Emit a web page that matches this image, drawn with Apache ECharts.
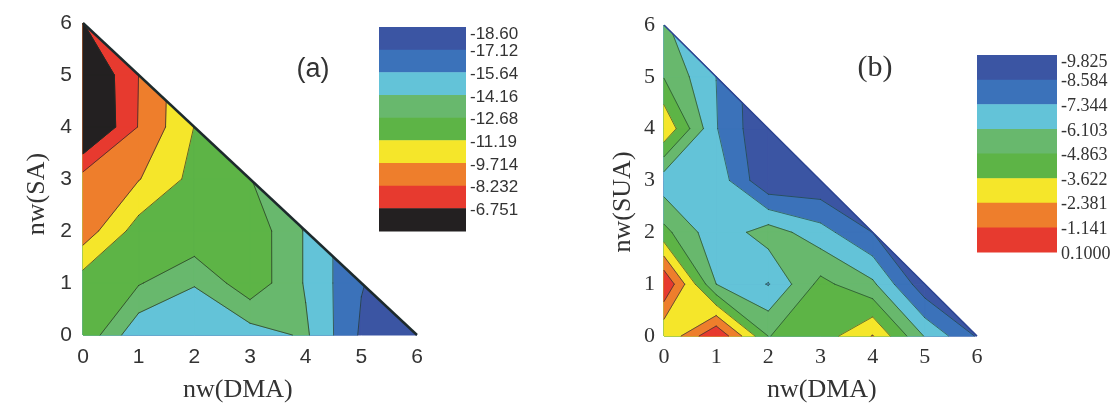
<!DOCTYPE html>
<html><head><meta charset="utf-8">
<script src="https://cdn.jsdelivr.net/npm/echarts@6/dist/echarts.min.js"></script>
<style>html,body{margin:0;padding:0;background:#fff}#c{width:1110px;height:405px}</style>
</head><body><div id="c"></div>
<script>
// axis ticks (number of water molecules)
const nwTicks = [0, 1, 2, 3, 4, 5, 6];

// Panel (a): values on the grid, one row per nw(SA) = 0..6, entries for nw(DMA) = 0..6-nw(SA)
const a_SA0 = [-11.49, -15.34, -15.19, -14.90, -13.93, -17.34, -18.53];
const a_SA1 = [-11.96, -12.55, -14.08, -11.64, -14.30, -17.04];
const a_SA2 = [-8.88, -11.86, -11.34, -11.65, -14.30];
const a_SA3 = [-8.82, -9.64, -11.64, -12.60];
const a_SA4 = [-4.53, -8.31, -11.22];
const a_SA5 = [-4.83, -8.24];
const a_SA6 = [-6.72];

// Panel (b): one row per nw(SUA) = 0..6
const b_SUA0 = [-3.56, 0.04, -4.89, -4.33, -2.32, -6.20, -8.71];
const b_SUA1 = [0.07, -6.10, -7.41, -4.49, -5.86, -9.45];
const b_SUA2 = [-4.49, -6.97, -5.48, -6.85, -8.60];
const b_SUA3 = [-6.85, -6.54, -9.70, -9.58];
const b_SUA4 = [-2.51, -7.27, -9.82];
const b_SUA5 = [-4.93, -7.35];
const b_SUA6 = [-5.86];

// contour levels and colour-bar labels
const levelsA = [-18.60, -17.12, -15.64, -14.16, -12.68, -11.19, -9.714, -8.232, -6.751];
const labelsA = ['-18.60', '-17.12', '-15.64', '-14.16', '-12.68', '-11.19', '-9.714', '-8.232', '-6.751'];
const levelsB = [-9.825, -8.584, -7.344, -6.103, -4.863, -3.622, -2.381, -1.141, 0.1000];
const labelsB = ['-9.825', '-8.584', '-7.344', '-6.103', '-4.863', '-3.622', '-2.381', '-1.141', '0.1000'];

const bandColors = ['#3b55a3', '#3b72ba', '#63c3d8', '#68b86d', '#5db446', '#f5e62a', '#ee7e2c', '#e73a2f', '#232021'];
const colorsA = bandColors.slice(0, 9);
const colorsB = bandColors.slice(0, 8);

const rowsA = [a_SA0, a_SA1, a_SA2, a_SA3, a_SA4, a_SA5, a_SA6];
const rowsB = [b_SUA0, b_SUA1, b_SUA2, b_SUA3, b_SUA4, b_SUA5, b_SUA6];

// ---- marching-squares helpers ----
function clipPoly(poly, level) {
  const out = [];
  const inside = p => p[2] >= level;
  for (let n = 0; n < poly.length; n++) {
    const a = poly[n], b = poly[(n + 1) % poly.length];
    const ia = inside(a), ib = inside(b);
    if (ia) out.push(a);
    if (ia !== ib) {
      const t = (level - a[2]) / (b[2] - a[2]);
      out.push([a[0] + t * (b[0] - a[0]), a[1] + t * (b[1] - a[1]), level]);
    }
  }
  return out;
}
function crossings(poly, L) {
  const res = [];
  for (let k = 0; k < poly.length; k++) {
    const a = poly[k], b = poly[(k + 1) % poly.length];
    if ((a[2] >= L) !== (b[2] >= L)) {
      const t = (L - a[2]) / (b[2] - a[2]);
      res.push([a[0] + t * (b[0] - a[0]), a[1] + t * (b[1] - a[1])]);
    }
  }
  return res;
}
function isSaddle(poly, L) {
  if (poly.length !== 4) return false;
  const s = poly.map(p => p[2] >= L);
  return s[0] === s[2] && s[1] === s[3] && s[0] !== s[1];
}
function superPolys(cell, L) {
  const poly = cell.poly;
  if (isSaddle(poly, L) && cell.center < L) {
    const cr = crossings(poly, L);
    if (poly[1][2] >= L) return [[cr[0], poly[1], cr[1]], [cr[2], poly[3], cr[3]]];
    return [[cr[3], poly[0], cr[0]], [cr[1], poly[2], cr[2]]];
  }
  const c = clipPoly(poly, L);
  return c.length >= 3 ? [c] : [];
}
function isoSegments(cell, L) {
  const poly = cell.poly;
  const cr = crossings(poly, L);
  if (cr.length === 2) return [[cr[0], cr[1]]];
  if (cr.length === 4) {
    const cutC1 = (poly[1][2] < L) === (cell.center >= L);
    return cutC1 ? [[cr[0], cr[1]], [cr[2], cr[3]]] : [[cr[3], cr[0]], [cr[1], cr[2]]];
  }
  return [];
}
function makeCells(rows) {
  const n = rows.length - 1;
  const v = (x, y) => [x, y, rows[y][x]];
  const cells = [];
  for (let j = 0; j < n; j++) {
    for (let i = 0; i + j < n; i++) {
      if (i + j <= n - 2) {
        const poly = [v(i, j), v(i + 1, j), v(i + 1, j + 1), v(i, j + 1)];
        cells.push({ poly, center: (poly[0][2] + poly[1][2] + poly[2][2] + poly[3][2]) / 4 });
      } else {
        cells.push({ poly: [v(i, j), v(i + 1, j), v(i, j + 1)], center: null });
      }
    }
  }
  return cells;
}
// filled bands: one data item per band, drawn from the lowest band upwards
function fillSeries(rows, levels, colors, axis) {
  const cells = makeCells(rows);
  return {
    type: 'custom', xAxisIndex: axis, yAxisIndex: axis, silent: true, animation: false, z: 2, clip: false,
    data: colors.map((c, k) => [k]),
    renderItem(params, api) {
      const k = api.value(0);
      const children = [];
      for (const cell of cells) {
        const pgs = k === 0 ? [cell.poly] : superPolys(cell, levels[k]);
        for (const pg of pgs) {
          children.push({ type: 'polygon', shape: { points: pg.map(p => api.coord([p[0], p[1]])) },
            style: { fill: colors[k], stroke: colors[k], lineWidth: 1, lineJoin: 'round' } });
        }
      }
      return { type: 'group', children };
    }
  };
}
// contour lines: one data item per internal level
function lineSeries(rows, levels, nB, axis, color) {
  const cells = makeCells(rows);
  const idx = [];
  for (let k = 1; k < nB; k++) idx.push([k]);
  return {
    type: 'custom', xAxisIndex: axis, yAxisIndex: axis, silent: true, animation: false, z: 3, clip: false,
    data: idx,
    renderItem(params, api) {
      const L = levels[api.value(0)];
      const children = [];
      for (const cell of cells) {
        for (const s of isoSegments(cell, L)) {
          const a = api.coord(s[0]), b = api.coord(s[1]);
          children.push({ type: 'line', shape: { x1: a[0], y1: a[1], x2: b[0], y2: b[1] },
            style: { stroke: color, lineWidth: 1, lineCap: 'round' } });
        }
      }
      return { type: 'group', children };
    }
  };
}
function barSeries(colors, axis) {
  return {
    type: 'custom', xAxisIndex: axis, yAxisIndex: axis, silent: true, animation: false, clip: false,
    data: colors.map((c, k) => [k]),
    renderItem(params, api) {
      const k = api.value(0);
      const p0 = api.coord([0, k]), p1 = api.coord([1, k + 1]);
      return { type: 'rect', shape: { x: p0[0], y: Math.min(p0[1], p1[1]), width: p1[0] - p0[0], height: Math.abs(p1[1] - p0[1]) + 0.5 },
        style: { fill: colors[k] } };
    }
  };
}
function barLabelSeries(labels, axis, font) {
  return {
    type: 'custom', xAxisIndex: axis, yAxisIndex: axis, silent: true, animation: false, clip: false, z: 5,
    data: labels.map((t, k) => [k]),
    renderItem(params, api) {
      const k = api.value(0);
      const p = api.coord([1, k]);
      return { type: 'text', x: p[0] + 4, y: p[1] + (k === 0 ? 7 : 2),
        style: { text: labels[k], font: font, fill: '#333', align: 'left', verticalAlign: 'middle' } };
    }
  };
}
const maxNw = nwTicks[nwTicks.length - 1];
const edge = [[nwTicks[0], maxNw], [maxNw, nwTicks[0]]];

const SANS = 'Liberation Sans, Arial, sans-serif';
const SERIF = 'Liberation Serif, Times New Roman, serif';

function plotAxis(grid, font, size, margin) {
  return {
    gridIndex: grid, type: 'value', min: 0, max: maxNw, interval: 1,
    axisLine: { show: false }, axisTick: { show: false }, splitLine: { show: false },
    axisLabel: { fontFamily: font, fontSize: size, color: '#333', margin: margin, showMinLabel: true, showMaxLabel: true }
  };
}
function barAxis(grid, n) {
  return { gridIndex: grid, type: 'value', min: 0, max: n, interval: 1, inverse: true, show: false };
}

const option = {
  backgroundColor: '#ffffff',
  animation: false,
  grid: [
    { left: 83, top: 23, width: 334, height: 312 },
    { left: 664, top: 25, width: 313, height: 311 },
    { left: 379, top: 27, width: 87, height: 204 },
    { left: 977, top: 55, width: 80, height: 197 }
  ],
  xAxis: [
    plotAxis(0, SANS, 21, 12),
    plotAxis(1, SERIF, 22, 10),
    { gridIndex: 2, type: 'value', min: 0, max: 1, show: false },
    { gridIndex: 3, type: 'value', min: 0, max: 1, show: false }
  ],
  yAxis: [
    plotAxis(0, SANS, 21, 11),
    plotAxis(1, SERIF, 22, 9),
    barAxis(2, colorsA.length),
    barAxis(3, colorsB.length)
  ],
  series: [
    fillSeries(rowsA, levelsA, colorsA, 0),
    lineSeries(rowsA, levelsA, colorsA.length, 0, 'rgba(35,45,40,0.7)'),
    { type: 'line', xAxisIndex: 0, yAxisIndex: 0, data: edge, symbol: 'none', z: 4, silent: true,
      lineStyle: { color: '#1d2a2c', width: 2.4 } },
    fillSeries(rowsB, levelsB, colorsB, 1),
    lineSeries(rowsB, levelsB, colorsB.length, 1, 'rgba(30,60,50,0.65)'),
    { type: 'line', xAxisIndex: 1, yAxisIndex: 1, data: edge, symbol: 'none', z: 4, silent: true,
      lineStyle: { color: '#2d4592', width: 1.6 } },
    barSeries(colorsA, 2),
    barSeries(colorsB, 3),
    barLabelSeries(labelsA, 2, '17px ' + SANS),
    barLabelSeries(labelsB, 3, '18px ' + SERIF)
  ],
  graphic: [
    { type: 'text', left: 183, top: 377, style: { text: 'nw(DMA)', font: '26px ' + SERIF, fill: '#333' } },
    { type: 'text', x: 37, y: 194, rotation: Math.PI / 2, style: { text: 'nw(SA)', font: '26px ' + SERIF, fill: '#333', align: 'center', verticalAlign: 'middle' } },
    { type: 'text', left: 767, top: 377, style: { text: 'nw(DMA)', font: '26px ' + SERIF, fill: '#333' } },
    { type: 'text', x: 623, y: 202, rotation: Math.PI / 2, style: { text: 'nw(SUA)', font: '26px ' + SERIF, fill: '#333', align: 'center', verticalAlign: 'middle' } },
    { type: 'text', x: 313, y: 70, style: { text: '(a)', font: '27px ' + SANS, fill: '#333', align: 'center', verticalAlign: 'middle' } },
    { type: 'text', x: 875, y: 68, style: { text: '(b)', font: '30px ' + SERIF, fill: '#333', align: 'center', verticalAlign: 'middle' } }
  ]
};
const chart = echarts.init(document.getElementById('c'), null, { renderer: 'canvas' });
chart.setOption(option);
</script>
</body></html>
